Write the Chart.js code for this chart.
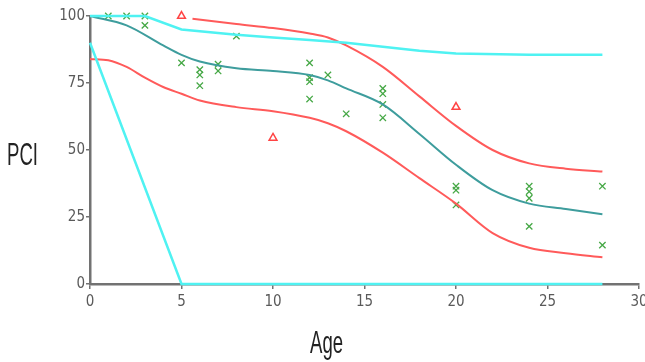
<!DOCTYPE html>
<html lang="en">
<head>
  <meta charset="UTF-8" />
  <title>PCI vs Age</title>
  <script src="https://cdn.jsdelivr.net/npm/chart.js"></script>
  <style>
    body {
      margin: 0;
      background: #fff;
    }

    .wrap {
      position: relative;
      width: 645px;
      height: 362px;
      overflow: hidden;
    }

    .lbl {
      position: absolute;
      font-family: "Liberation Sans", Arial, sans-serif;
      font-size: 32px;
      line-height: 32px;
      color: #222;
      transform: scaleX(0.58);
      transform-origin: left top;
      white-space: nowrap;
    }
  </style>
</head>
<body>
  <div class="wrap">
    <canvas id="chart" width="645" height="362"></canvas>
    <div class="lbl" style="left:7px; top:138px;">PCI</div>
    <div class="lbl" style="left:310px; top:326px;">Age</div>
  </div>

  <script>
    // observed condition ratings
    const obsAge = [1, 2, 3, 3, 5, 6, 6, 6, 7, 7, 8, 12, 12, 12, 12, 13, 14, 16, 16, 16, 16, 20, 20, 20, 24, 24, 24, 24, 28, 28];
    const obsPci = [100, 100, 100, 96.5, 82.5, 80, 78, 74, 82, 79.5, 92.5, 82.5, 77, 75.5, 69, 78, 63.5, 73, 71, 67, 62, 36.5, 35, 29.5, 36.5, 34.5, 32, 21.5, 36.5, 14.5];

    // outliers (triangles)
    const outAge = [5, 10, 20];
    const outPci = [100, 54.5, 66];

    // mean curve
    const meanAge = [0, 2, 4, 5, 6, 8, 10, 12, 13, 14, 16, 18, 20, 22, 24, 26, 28];
    const meanPci = [100, 96.5, 89, 85.5, 83, 80.5, 79.5, 78, 76, 73, 67, 56, 44.5, 35, 30, 28, 26];

    // upper confidence band
    const upAge = [5.6, 8, 10, 12, 13, 14, 16, 18, 20, 22, 24, 26, 28];
    const upPci = [99, 97, 95.5, 93.5, 92, 89, 81, 70, 59, 50, 45, 43, 42];

    // lower confidence band
    const loAge = [0, 1, 2, 3, 4, 5, 6, 8, 10, 12, 13, 14, 16, 18, 20, 22, 24, 26, 28];
    const loPci = [84, 83.5, 81, 77, 73.5, 71, 68.5, 66, 64.5, 62, 60, 57, 49, 39.5, 30, 19, 13.5, 11.5, 10];

    // limit lines
    const limTopAge = [0, 3, 5, 8, 10, 12, 14, 16, 18, 20, 24, 28];
    const limTopPci = [100, 100, 95, 93, 92, 91, 90, 88.5, 87, 86, 85.5, 85.5];
    const limLowAge = [0, 5, 28];
    const limLowPci = [90, 0, 0];

    const xTicks = [0, 5, 10, 15, 20, 25, 30];
    const yTicks = [0, 25, 50, 75, 100];

    const pts = (xs, ys) => xs.map((x, i) => ({ x: x, y: ys[i] }));

    const axisColor = '#727272';
    const tickFont = { family: '"Liberation Sans Narrow", "DejaVu Sans Condensed", sans-serif', size: 15 };

    new Chart(document.getElementById('chart'), {
      type: 'scatter',
      data: {
        datasets: [
          { data: pts(limLowAge, limLowPci), showLine: true, borderColor: '#4ff2f2', borderWidth: 2.5, pointRadius: 0, tension: 0, clip: false },
          { data: pts(limTopAge, limTopPci), showLine: true, borderColor: '#4ff2f2', borderWidth: 2.5, pointRadius: 0, tension: 0, clip: false },
          { data: pts(loAge, loPci), showLine: true, borderColor: '#ff5a5a', borderWidth: 2, pointRadius: 0, cubicInterpolationMode: 'monotone', clip: false },
          { data: pts(upAge, upPci), showLine: true, borderColor: '#ff5a5a', borderWidth: 2, pointRadius: 0, cubicInterpolationMode: 'monotone', clip: false },
          { data: pts(meanAge, meanPci), showLine: true, borderColor: '#3e9d9d', borderWidth: 2, pointRadius: 0, cubicInterpolationMode: 'monotone', clip: false },
          { data: pts(obsAge, obsPci), showLine: false, pointStyle: 'crossRot', pointRadius: 4.5, borderColor: '#46a846', borderWidth: 1.3, clip: false },
          { data: pts(outAge, outPci), showLine: false, pointStyle: 'triangle', pointRadius: 4.5, borderColor: '#ff4444', backgroundColor: '#ffffff', borderWidth: 1.5, clip: false }
        ]
      },
      options: {
        responsive: false,
        animation: false,
        layout: { padding: { top: 16, right: 5, left: 0, bottom: 0 } },
        plugins: {
          legend: { display: false },
          tooltip: { enabled: false }
        },
        scales: {
          x: {
            type: 'linear',
            min: 0,
            max: 30,
            afterBuildTicks: s => { s.ticks = xTicks.map(v => ({ value: v })); },
            afterFit: s => { s.height = 78; s.paddingLeft = 0; s.paddingRight = 0; },
            ticks: { color: '#5a5a5a', font: tickFont, padding: 4, maxRotation: 0 },
            grid: { drawOnChartArea: false, drawTicks: true, tickLength: 5, color: axisColor, lineWidth: 1.5 },
            border: { color: axisColor, width: 2.5 }
          },
          y: {
            min: 0,
            max: 100,
            afterBuildTicks: s => { s.ticks = yTicks.map(v => ({ value: v })); },
            afterFit: s => { s.width = 90; s.paddingTop = 0; s.paddingBottom = 0; },
            ticks: { color: '#5a5a5a', font: tickFont, padding: 1 },
            grid: { drawOnChartArea: false, drawTicks: true, tickLength: 4, color: axisColor, lineWidth: 1.5 },
            border: { color: axisColor, width: 2.5 }
          }
        }
      }
    });
  </script>
</body>
</html>
